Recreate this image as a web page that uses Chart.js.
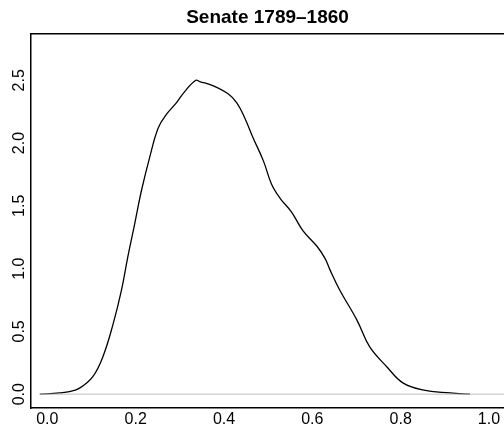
<!DOCTYPE html>
<html>
<head>
<meta charset="utf-8">
<script src="https://cdn.jsdelivr.net/npm/chart.js@4"></script>
<style>
  html, body { margin: 0; padding: 0; background: #fff; overflow: hidden; }
  #wrap { width: 504px; height: 434px; }
</style>
</head>
<body>
<div id="wrap"><canvas id="densityChart"></canvas></div>
<script>
// density estimate
const densX = [-0.017, 0.0, 0.028, 0.05, 0.073, 0.103, 0.126, 0.149, 0.168, 0.182, 0.198, 0.213, 0.232, 0.251, 0.27, 0.292, 0.311, 0.336, 0.345, 0.376, 0.41, 0.429, 0.447, 0.466, 0.489, 0.508, 0.527, 0.553, 0.579, 0.61, 0.629, 0.64, 0.662, 0.701, 0.73, 0.769, 0.805, 0.85, 0.912, 0.957];
const densY = [0.0, 0.002, 0.01, 0.02, 0.048, 0.14, 0.30, 0.56, 0.83, 1.09, 1.36, 1.62, 1.89, 2.12, 2.23, 2.32, 2.41, 2.50, 2.49, 2.455, 2.39, 2.32, 2.20, 2.04, 1.86, 1.67, 1.56, 1.45, 1.30, 1.18, 1.08, 0.99, 0.83, 0.59, 0.376, 0.217, 0.09, 0.034, 0.01, 0.0];
const xTicks = [0, 0.2, 0.4, 0.6, 0.8, 1.0];
const yTicks = [0, 0.5, 1.0, 1.5, 2.0, 2.5];
const zeroLine = [-0.017, 1.04];
const titleText = 'Senate 1789\u20131860';

const fontFamily = '"Liberation Sans", Arial, Helvetica, sans-serif';
const ctx = document.getElementById('densityChart').getContext('2d');

const densityChart = new Chart(ctx, {
    type: 'line',
    data: {
        datasets: [
            {
                data: zeroLine.map(x => ({ x: x, y: 0 })),
                borderColor: '#bebebe',
                borderWidth: 1,
                pointRadius: 0,
                tension: 0
            },
            {
                data: densX.map((x, i) => ({ x: x, y: densY[i] })),
                borderColor: '#000',
                borderWidth: 1.3,
                pointRadius: 0,
                tension: 0.4
            }
        ]
    },
    options: {
        maintainAspectRatio: false,
        responsive: true,
        animation: false,
        layout: { padding: 0 },
        scales: {
            x: {
                type: 'linear',
                min: -0.037,
                max: 1.034,
                grid: { display: false, drawTicks: false },
                border: { display: true, color: '#000', width: 1.5 },
                afterBuildTicks: s => { s.ticks = xTicks.map(v => ({ value: v })); },
                afterFit: s => { s.height = 26; },
                ticks: {
                    color: '#000',
                    padding: 2,
                    maxRotation: 0,
                    font: { family: fontFamily, size: 16 },
                    callback: v => v.toFixed(1)
                }
            },
            xTop: {
                type: 'linear',
                position: 'top',
                min: -0.037,
                max: 1.034,
                grid: { display: false, drawTicks: false },
                border: { display: true, color: '#000', width: 1.5 },
                ticks: { display: false },
                afterFit: s => { s.height = 0; }
            },
            y: {
                min: -0.11,
                max: 2.87,
                grid: { display: false, drawTicks: false },
                border: { display: true, color: '#000', width: 1.5 },
                afterBuildTicks: s => { s.ticks = yTicks.map(v => ({ value: v })); },
                afterFit: s => { s.width = 31; },
                ticks: {
                    color: '#000',
                    padding: 0,
                    minRotation: 90,
                    maxRotation: 90,
                    crossAlign: 'center',
                    font: { family: fontFamily, size: 16 },
                    callback: v => v.toFixed(1)
                }
            }
        },
        plugins: {
            legend: { display: false },
            tooltip: { enabled: false },
            title: {
                display: true,
                text: titleText,
                fullSize: false,
                color: '#000',
                font: { family: fontFamily, size: 19, weight: 'bold' },
                padding: { top: 6, bottom: 5 }
            }
        }
    }
});
</script>
</body>
</html>
